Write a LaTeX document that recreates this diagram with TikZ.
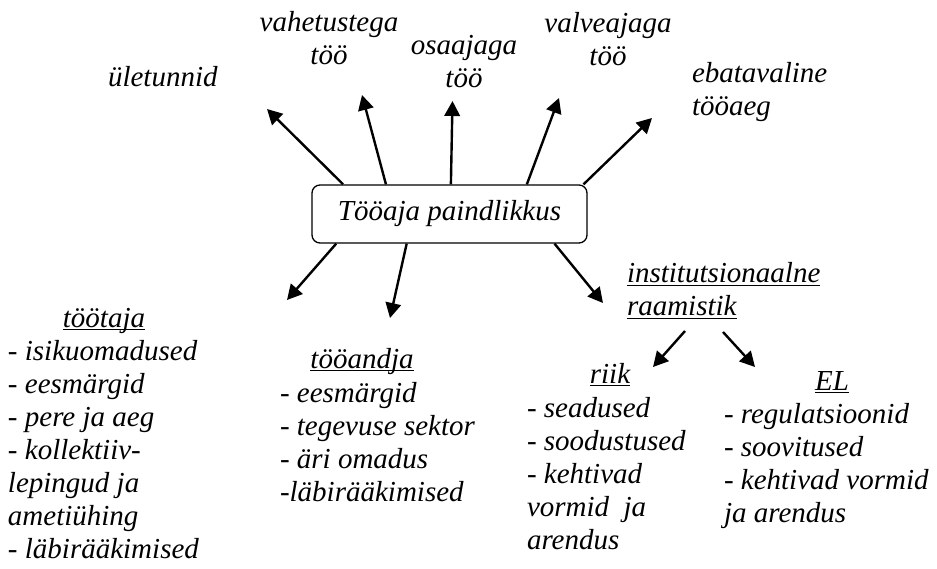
\documentclass[tikz,border=0pt]{standalone}
\usepackage{fontspec}
\setmainfont{Liberation Serif}[ItalicFont={Liberation Serif Italic}]
\usetikzlibrary{arrows.meta,calc}
\newsavebox\ulbox
\newcommand\myul[1]{\sbox\ulbox{#1}\rlap{\rule[-3.2pt]{\wd\ulbox}{1.4pt}}\usebox\ulbox}
\begin{document}
\begin{tikzpicture}[x=1pt,y=-1pt,
  txt/.style={inner sep=0pt,outer sep=0pt,font=\rmfamily\fontsize{29}{33}\selectfont\itshape},
  arr/.style={line width=2.4pt,-{Triangle[length=15pt,width=15.5pt]}},
  centralbox/.style={draw,line width=1.3pt,rounded corners=8pt,minimum width=275pt,minimum height=58pt,inner sep=0pt,font=\rmfamily\fontsize{29}{33}\selectfont\itshape}]
\useasboundingbox (0,0) rectangle (937,569);

% central node
\node[centralbox] (box) at (449.5,214) {Tööaja paindlikkus};

% top labels
\node[txt,anchor=base west] (ule) at (108,87) {ületunnid};
\node[txt,anchor=base] (vah) at (329,32) {\begin{tabular}[t]{@{}c@{}}vahetustega\\töö\end{tabular}};
\node[txt,anchor=base] (osa) at (464,55) {\begin{tabular}[t]{@{}c@{}}osaajaga\\töö\end{tabular}};
\node[txt,anchor=base] (val) at (608,33) {\begin{tabular}[t]{@{}c@{}}valveajaga\\töö\end{tabular}};
\node[txt,anchor=base west] (eba) at (692,83) {\begin{tabular}[t]{@{}l@{}}ebatavaline\\tööaeg\end{tabular}};

% lower labels
\node[txt,anchor=base] (tt) at (104,327) {\myul{töötaja}};
\node[txt,anchor=base west] (ttl) at (8,360) {\begin{tabular}[t]{@{}l@{}}- isikuomadused\\- eesmärgid\\- pere ja aeg\\- kollektiiv-\\lepingud ja\\ametiühing\\- läbirääkimised\end{tabular}};

\node[txt,anchor=base] (ta) at (362,368) {\myul{tööandja}};
\node[txt,anchor=base west] (tal) at (280,402) {\begin{tabular}[t]{@{}l@{}}- eesmärgid\\- tegevuse sektor\\- äri omadus\\-läbirääkimised\end{tabular}};

\node[txt,anchor=base west] (inst) at (627,283) {\begin{tabular}[t]{@{}l@{}}\myul{institutsionaalne}\\\myul{raamistik}\end{tabular}};

\node[txt,anchor=base] (riik) at (610,383) {\myul{riik}};
\node[txt,anchor=base west] (riikl) at (527,417) {\begin{tabular}[t]{@{}l@{}}- seadused\\- soodustused\\- kehtivad\\vormid\ \ ja\\arendus\end{tabular}};

\node[txt,anchor=base] (el) at (832,390) {\myul{EL}};
\node[txt,anchor=base west] (ell) at (724,423) {\begin{tabular}[t]{@{}l@{}}- regulatsioonid\\- soovitused\\- kehtivad vormid\\ja arendus\end{tabular}};

% arrow end points
\coordinate (t1) at (267,109);
\coordinate (t2) at (362,95);
\coordinate (t3) at (452.5,101);
\coordinate (t4) at (559,98);
\coordinate (t5) at (652,118);
\coordinate (t6) at (287,300);
\coordinate (t7) at (390,318);
\coordinate (t8) at (603,303);
\coordinate (r1) at (685,331);
\coordinate (t9) at (653,367);
\coordinate (r2) at (723,332);
\coordinate (t10) at (755,367);

\draw[arr] ($(box.north west)!0.115!(box.north east)$) -- (t1);
\draw[arr] ($(box.north west)!0.27!(box.north east)$) -- (t2);
\draw[arr] ($(box.north west)!0.505!(box.north east)$) -- (t3);
\draw[arr] ($(box.north west)!0.78!(box.north east)$) -- (t4);
\draw[arr] ($(box.north west)!0.985!(box.north east)$) -- (t5);
\draw[arr] ($(box.south west)!0.09!(box.south east)$) -- (t6);
\draw[arr] ($(box.south west)!0.345!(box.south east)$) -- (t7);
\draw[arr] ($(box.south west)!0.88!(box.south east)$) -- (t8);
\draw[arr] (r1) -- (t9);
\draw[arr] (r2) -- (t10);
\end{tikzpicture}
\end{document}
